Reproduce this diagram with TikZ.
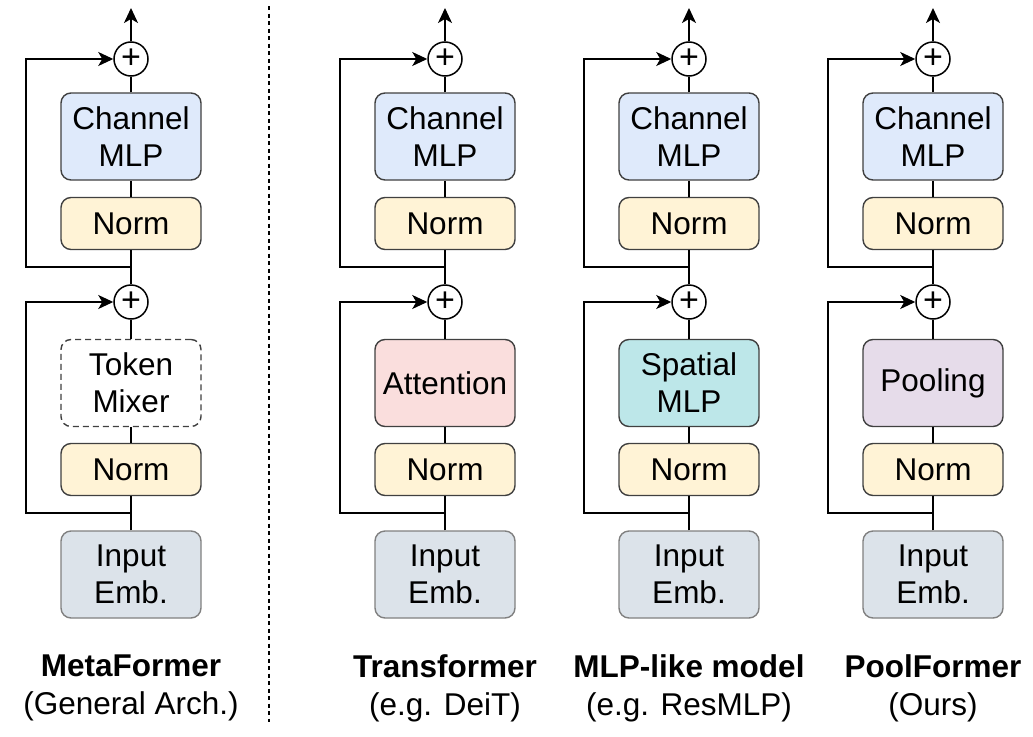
\documentclass[tikz,border=0pt]{standalone}
\usepackage{fontspec}
\setmainfont{Liberation Sans}
\usetikzlibrary{arrows.meta,positioning}

\definecolor{mlpblue}{HTML}{DFEAFB}
\definecolor{normyellow}{HTML}{FFF3D6}
\definecolor{attnpink}{HTML}{FADEDD}
\definecolor{smlpteal}{HTML}{BDE7E9}
\definecolor{poolpurple}{HTML}{E6DCEA}
\definecolor{embgray}{HTML}{DCE3EA}

\tikzset{
  block/.style={draw=black!75, line width=1.4pt, rounded corners=10pt, minimum width=140pt,
    align=center, inner sep=0pt, font=\fontsize{31.5}{37}\selectfont},
  tall/.style={block, minimum height=87pt},
  flat/.style={block, minimum height=52pt},
  mixdash/.style={fill=white, dash pattern=on 6pt off 4pt},
  attn/.style={fill=attnpink},
  smlp/.style={fill=smlpteal},
  pool/.style={fill=poolpurple},
  plus/.style={circle, draw, line width=1.5pt, fill=white, minimum size=34pt, inner sep=0pt,
    font=\fontsize{34}{34}\selectfont},
  link/.style={line width=1.5pt},
  arr/.style={link, -{Stealth[length=15pt,width=14pt,inset=4pt]}},
  caption/.style={align=center, font=\fontsize{31.5}{38}\selectfont},
}

\begin{document}
\begin{tikzpicture}[x=1pt,y=-1pt]
    \useasboundingbox (0,0) rectangle (1033,736);

    \foreach \cx/\mixstyle/\mixtext/\title/\sub [count=\i] in {
        131/mixdash/{Token\\Mixer}/MetaFormer/{(General Arch.)},
        445/attn/Attention/Transformer/{(e.g. DeiT)},
        689/smlp/{Spatial\\MLP}/MLP-like model/{(e.g. ResMLP)},
        933/pool/Pooling/PoolFormer/(Ours)} {
        % blocks, bottom to top
        \node[tall, fill=embgray, draw=black!50] (emb-\i) at (\cx,574.5) {Input\\Emb.};
        \node[flat, fill=normyellow] (norma-\i) at (\cx,469.5) {Norm};
        \node[tall, \mixstyle] (mix-\i) at (\cx,383) {\mixtext};
        \node[plus] (adda-\i) at (\cx,302) {+};
        \node[flat, fill=normyellow] (normb-\i) at (\cx,223.5) {Norm};
        \node[tall, fill=mlpblue] (mlp-\i) at (\cx,136.5) {Channel\\MLP};
        \node[plus] (addb-\i) at (\cx,59) {+};
        \node[caption] (cap-\i) at (\cx,688) {\textbf{\title}\\\sub};

        \coordinate (ja-\i) at (\cx,513);
        \coordinate (sa-\i) at (\cx-105,302);
        \coordinate (jb-\i) at (\cx,267);
        \coordinate (sb-\i) at (\cx-105,59);
        \coordinate (out-\i) at (\cx,8);

        \draw[link] (emb-\i) -- (norma-\i);
        \draw[link] (norma-\i) -- (mix-\i);
        \draw[link] (mix-\i) -- (adda-\i);
        \draw[link] (adda-\i) -- (normb-\i);
        \draw[link] (normb-\i) -- (mlp-\i);
        \draw[link] (mlp-\i) -- (addb-\i);
        \draw[arr] (addb-\i) -- (out-\i);

        % residual paths
        \draw[arr] (ja-\i) -| (sa-\i) -- (adda-\i);
        \draw[arr] (jb-\i) -| (sb-\i) -- (addb-\i);
    }

    \coordinate (divtop) at (269,6);
    \coordinate (divbot) at (269,722);
    \draw[line width=1.3pt, dash pattern=on 4pt off 3.5pt] (divtop) -- (divbot);

\end{tikzpicture}
\end{document}
